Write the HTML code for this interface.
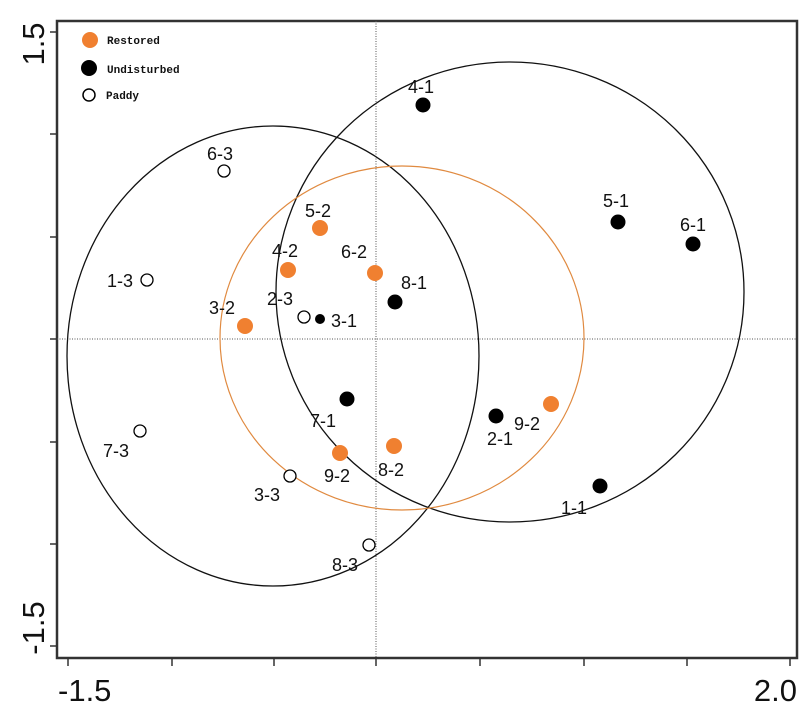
<!DOCTYPE html>
<html><head><meta charset="utf-8"><style>
html,body{margin:0;padding:0;background:#fff;}
svg{display:block;}
.l{font-family:"Liberation Sans",Arial,sans-serif;font-size:18px;fill:#111;}
.g{font-family:"Liberation Mono",monospace;font-size:11px;font-weight:bold;fill:#111;}
.t{font-family:"Liberation Sans",Arial,sans-serif;font-size:31px;fill:#111;}
</style></head><body>
<svg width="812" height="710" viewBox="0 0 812 710" xmlns="http://www.w3.org/2000/svg">
<rect x="57" y="21" width="740" height="637" fill="none" stroke="#333" stroke-width="2.5"/>
<line x1="376" y1="21" x2="376" y2="658" stroke="#555" stroke-width="1" stroke-dasharray="1,1.5"/>
<line x1="57" y1="339" x2="797" y2="339" stroke="#555" stroke-width="1" stroke-dasharray="1,1.5"/>
<g stroke="#333" stroke-width="1.5">
<line x1="68" y1="658" x2="68" y2="666"/><line x1="172" y1="658" x2="172" y2="666"/><line x1="274" y1="658" x2="274" y2="666"/><line x1="376" y1="658" x2="376" y2="666"/><line x1="480" y1="658" x2="480" y2="666"/><line x1="584" y1="658" x2="584" y2="666"/><line x1="687" y1="658" x2="687" y2="666"/><line x1="790" y1="658" x2="790" y2="666"/>
<line x1="50" y1="32" x2="57" y2="32"/><line x1="50" y1="134" x2="57" y2="134"/><line x1="50" y1="237" x2="57" y2="237"/><line x1="50" y1="339" x2="57" y2="339"/><line x1="50" y1="442" x2="57" y2="442"/><line x1="50" y1="544" x2="57" y2="544"/><line x1="50" y1="646" x2="57" y2="646"/>
</g>
<text class="t" x="58" y="701" text-anchor="start">-1.5</text>
<text class="t" x="797" y="701" text-anchor="end">2.0</text>
<text class="t" transform="translate(44,44) rotate(-90)" text-anchor="middle">1.5</text>
<text class="t" transform="translate(44,628) rotate(-90)" text-anchor="middle">-1.5</text>
<ellipse cx="273" cy="356" rx="206" ry="230" fill="none" stroke="#111" stroke-width="1.3"/>
<ellipse cx="510" cy="292" rx="234" ry="230" fill="none" stroke="#111" stroke-width="1.3"/>
<ellipse cx="402" cy="338" rx="182" ry="172" fill="none" stroke="#e08a40" stroke-width="1.2"/>
<circle cx="90" cy="40" r="8" fill="#f08030"/><text class="g" x="107" y="44">Restored</text>
<circle cx="89" cy="68" r="8" fill="#000"/><text class="g" x="107" y="73">Undisturbed</text>
<circle cx="89" cy="95" r="6" fill="#fff" stroke="#000" stroke-width="1.5"/><text class="g" x="106" y="99">Paddy</text>
<g fill="#f08030">
<circle cx="320" cy="228" r="8"/><circle cx="288" cy="270" r="8"/><circle cx="375" cy="273" r="8"/><circle cx="245" cy="326" r="8"/><circle cx="551" cy="404" r="8"/><circle cx="340" cy="453" r="8"/><circle cx="394" cy="446" r="8"/>
</g>
<g fill="#000">
<circle cx="423" cy="105" r="7.5"/><circle cx="618" cy="222" r="7.5"/><circle cx="693" cy="244" r="7.5"/><circle cx="395" cy="302" r="7.5"/><circle cx="320" cy="319" r="5"/><circle cx="347" cy="399" r="7.5"/><circle cx="496" cy="416" r="7.5"/><circle cx="600" cy="486" r="7.5"/>
</g>
<g fill="#fff" stroke="#000" stroke-width="1.3">
<circle cx="224" cy="171" r="6"/><circle cx="147" cy="280" r="6"/><circle cx="304" cy="317" r="6"/><circle cx="140" cy="431" r="6"/><circle cx="290" cy="476" r="6"/><circle cx="369" cy="545" r="6"/>
</g>
<g class="l">
<text x="408" y="93">4-1</text><text x="603" y="207">5-1</text><text x="680" y="231">6-1</text>
<text x="207" y="160">6-3</text><text x="305" y="217">5-2</text><text x="272" y="257">4-2</text><text x="341" y="258">6-2</text>
<text x="401" y="289">8-1</text><text x="107" y="287">1-3</text><text x="267" y="305">2-3</text><text x="209" y="314">3-2</text><text x="331" y="327">3-1</text>
<text x="310" y="427">7-1</text><text x="103" y="457">7-3</text><text x="487" y="445">2-1</text><text x="514" y="430">9-2</text>
<text x="324" y="482">9-2</text><text x="378" y="476">8-2</text><text x="254" y="501">3-3</text><text x="561" y="514">1-1</text><text x="332" y="571">8-3</text>
</g>
</svg>
</body></html>
